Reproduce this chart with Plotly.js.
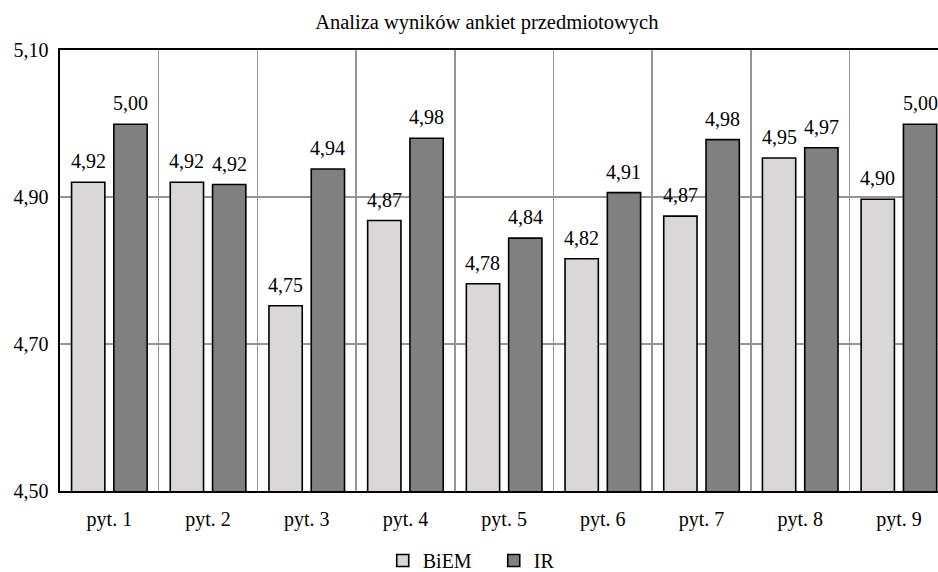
<!DOCTYPE html>
<html>
<head>
<meta charset="utf-8">
<script src="https://cdn.plot.ly/plotly-3.0.1.min.js"></script>
<style>html,body{margin:0;padding:0;background:#fff;}#chart{width:938px;height:572px;}</style>
</head>
<body>
<div id="chart"></div>
<script>
const categories = ["pyt. 1","pyt. 2","pyt. 3","pyt. 4","pyt. 5","pyt. 6","pyt. 7","pyt. 8","pyt. 9"];
const biem = [4.920, 4.920, 4.752, 4.868, 4.782, 4.816, 4.874, 4.953, 4.897];
const ir   = [4.999, 4.917, 4.938, 4.980, 4.844, 4.906, 4.978, 4.967, 4.999];
const seriesNames = ["BiEM", "IR"];
const yTicks = [4.5, 4.7, 4.9, 5.1];

const FONT = 'Liberation Serif';
const BARGAP = 0.143;
const GROUPGAP = 0.213;
const slot = (1 - BARGAP) / 2;

function fmt(v){ return v.toFixed(2).replace('.', ','); }

const traces = [
  {type:'bar', name:seriesNames[0], x:categories, y:biem,
   marker:{color:'#d9d7d7', line:{color:'#000', width:1.6}}},
  {type:'bar', name:seriesNames[1], x:categories, y:ir,
   marker:{color:'#808080', line:{color:'#000', width:1.6}}}
];

const annotations = [];
[biem, ir].forEach((arr, s) => {
  const off = (s === 0 ? -1 : 1) * slot / 2;
  arr.forEach((v, i) => {
    annotations.push({x: i + off, y: v, xref:'x', yref:'y', text: fmt(v),
      showarrow:false, yanchor:'bottom', yshift:8,
      font:{family:FONT, size:20, color:'#000'}});
  });
});

const layout = {
  width:938, height:572,
  margin:{l:60, r:0, t:50, b:81, autoexpand:false},
  paper_bgcolor:'#fff', plot_bgcolor:'#fff',
  separators:', ',
  font:{family:FONT, size:20, color:'#000'},
  title:{text:'Analiza wyników ankiet przedmiotowych', x:0.519, xanchor:'center', y:0.962, yanchor:'middle',
         font:{family:FONT, size:20.5, color:'#000'}},
  barmode:'group', bargap:BARGAP, bargroupgap:GROUPGAP,
  xaxis:{type:'category', range:[-0.5, 8.396], tickson:'boundaries', showgrid:true, automargin:false,
         gridcolor:'#959595', gridwidth:1.5, showline:true, linecolor:'#000', linewidth:1.6,
         mirror:true, ticks:'', ticklabelstandoff:9, tickfont:{family:FONT, size:20},
         fixedrange:true},
  yaxis:{range:[4.5, 5.1], tickvals:yTicks, tickformat:'.2f', showgrid:true, automargin:false,
         gridcolor:'#959595', gridwidth:1.5, showline:true, linecolor:'#000', linewidth:1.6,
         mirror:true, ticks:'outside', ticklen:6, tickcolor:'rgba(0,0,0,0)', tickfont:{family:FONT, size:20},
         zeroline:false},
  showlegend:true,
  legend:{orientation:'h', x:0.494, xanchor:'center', yref:'container', y:0.02, yanchor:'middle',
          font:{family:FONT, size:20}, itemwidth:30, entrywidth:66, tracegroupgap:0},
  annotations: annotations
};

Plotly.newPlot('chart', traces, layout, {displayModeBar:false, staticPlot:true});
</script>
</body>
</html>
